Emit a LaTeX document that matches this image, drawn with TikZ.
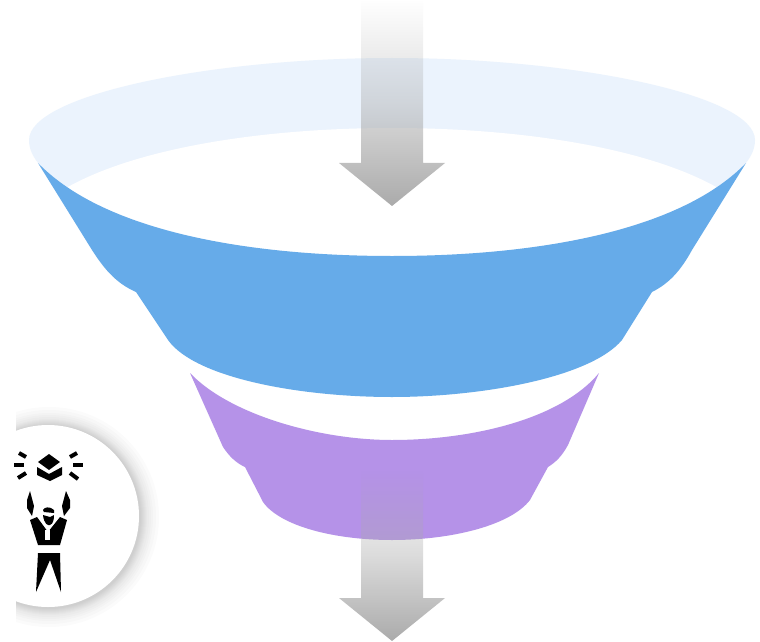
\documentclass[tikz,border=0pt]{standalone}
\usetikzlibrary{fadings}
\definecolor{rimblue}{HTML}{EBF3FD}
\definecolor{funnelblue}{HTML}{66ABE9}
\definecolor{funnelpurple}{HTML}{B592E8}
\definecolor{arrowgray}{HTML}{ABABAB}
\tikzfading[name=arrowfade,top color=transparent!100,bottom color=transparent!0,middle color=transparent!58]
\tikzset{
  funnelarrow/.style={fill=arrowgray,path fading=arrowfade},
  icon/.style={fill=black},
  ray/.style={draw=black,line width=3pt}
}
\begin{document}
\begin{tikzpicture}[x=0.75pt,y=-0.75pt]
\useasboundingbox (0,0) rectangle (760,642);
\fill[white] (0,0) rectangle (760,642);
% rim
\coordinate (RL) at (38,163);
\coordinate (RR) at (746,163);
\coordinate (RB) at (392,256);
\fill[rimblue] (RL) .. controls (32,155) and (29,148) .. (29,140)
  .. controls (29,95) and (210,58) .. (392,58)
  .. controls (574,58) and (755,95) .. (755,140)
  .. controls (755,148) and (752,155) .. (RR)
  .. controls (679,232) and (534,256) .. (RB)
  .. controls (250,256) and (105,232) .. cycle;
\fill[white] (66,188) .. controls (140,146) and (270,128) .. (392,128)
  .. controls (514,128) and (644,146) .. (718,188)
  .. controls (640,245) and (534,270) .. (392,270)
  .. controls (250,270) and (144,245) .. cycle;
% blue band
\fill[funnelblue] (RL) .. controls (105,232) and (250,256) .. (RB)
  .. controls (534,256) and (679,232) .. (RR)
  -- (692,250) .. controls (680,272) and (668,284) .. (652,292)
  -- (622,340) .. controls (590,378) and (480,397) .. (392,397)
  .. controls (300,397) and (195,378) .. (168,340)
  -- (136,292) .. controls (118,284) and (106,272) .. (92,250) -- cycle;
% purple band
\fill[funnelpurple] (190,373) .. controls (230,415) and (320,440) .. (392,440)
  .. controls (470,440) and (560,420) .. (599,373)
  -- (568,445) .. controls (562,456) and (556,462) .. (548,467)
  -- (530,500) .. controls (510,526) and (450,540) .. (392,540)
  .. controls (334,540) and (280,526) .. (263,502)
  -- (245,467) .. controls (236,463) and (229,456) .. (223,447) -- cycle;
% arrows
\fill[funnelarrow] (361,0) -- (423,0) -- (423,163) -- (445,163) -- (392,206)
  -- (339,163) -- (361,163) -- cycle;
\fill[funnelarrow] (361,470) -- (423,470) -- (423,598) -- (445,598) -- (392,641)
  -- (339,598) -- (361,598) -- cycle;
% badge
\begin{scope}
\clip (16,400) rectangle (200,642);
\foreach \r in {92,93,94,95,96,97,98,100,102,104,107,110}
  \fill[black,opacity=0.014] (49,517) circle (\r);
\end{scope}
\fill[white] (48,516) circle (91);
% cap
\fill[icon] (49,454) -- (60,462) -- (49,470) -- (38,462) -- cycle;
\fill[icon] (37,467) -- (49,474) -- (62,467) -- (62,475) -- (50,481) -- (37,475) -- cycle;
\draw[ray] (19,453) -- (26,457);
\draw[ray] (14,465) -- (24,465);
\draw[ray] (18,478) -- (26,473);
\draw[ray] (77,453) -- (70,457);
\draw[ray] (73,465) -- (83,465);
\draw[ray] (78,479) -- (70,473);
% man
\fill[icon] (30,491) -- (34,506) -- (32,516) -- (27,508) -- (27,500) -- cycle;
\fill[icon] (66,491) -- (62,506) -- (64,516) -- (70,508) -- (70,500) -- cycle;
\fill[icon] (30,520) -- (37,517) -- (48,532) -- (60,517) -- (67,520) -- (60,545) -- (38,545) -- cycle;
\fill[white] (45,530) rectangle (50,540);
\fill[icon] (43,515) .. controls (44,524) and (48,526) .. (50,525) .. controls (53,524) and (54,520) .. (54,515) -- (50,517) -- cycle;
\fill[icon] (43,510) .. controls (44,507) and (50,506) .. (54,510) -- (54,513) -- (44,512) -- cycle;
\fill[icon] (38,553) -- (60,553) -- (61,592) -- (50,560) -- (36,592) -- cycle;
\end{tikzpicture}
\end{document}
